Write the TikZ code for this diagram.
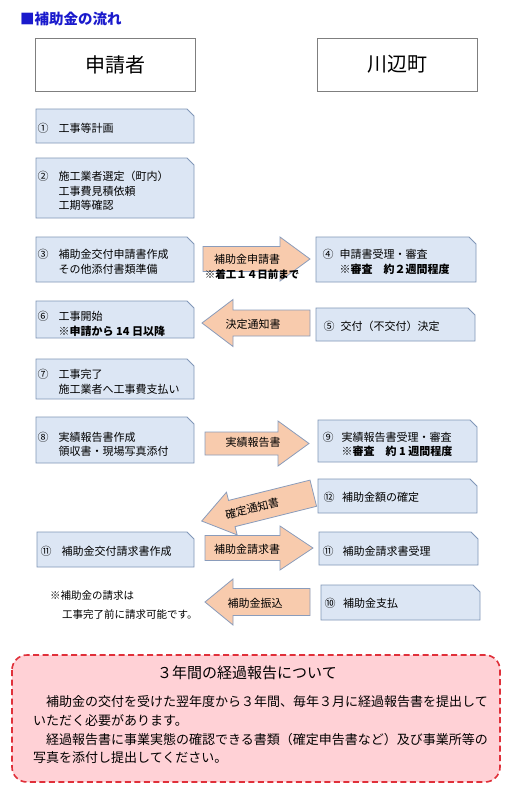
\documentclass[tikz,border=0pt]{standalone}
\usepackage{fontspec}
\setmainfont{Noto Sans CJK JP}
\definecolor{flowTitle}{HTML}{1A1ACC}
\definecolor{flowHeadLine}{HTML}{7F7F7F}
\definecolor{flowBoxFill}{HTML}{DCE6F4}
\definecolor{flowBoxLine}{HTML}{8197B8}
\definecolor{flowArrowFill}{HTML}{F8CBAD}
\definecolor{flowArrowLine}{HTML}{8A9CBB}
\definecolor{flowNoteFill}{HTML}{FFD1D6}
\definecolor{flowNoteLine}{HTML}{E0303A}

\tikzset{
  headbox/.style={draw=flowHeadLine, fill=white, line width=0.8pt,
    minimum width=160pt, minimum height=53pt, inner sep=0pt,
    font=\fontsize{20}{24}\selectfont},
  stepbox/.style={draw=flowBoxLine, fill=flowBoxFill, line width=0.8pt},
  steptext/.style={anchor=west, align=left, inner sep=0pt,
    font=\fontsize{11}{14.5}\selectfont},
  arrowshape/.style={draw=flowArrowLine, fill=flowArrowFill, line width=0.8pt},
  arrowtext/.style={inner sep=0pt, font=\fontsize{11}{13}\selectfont},
  sidenote/.style={inner sep=0pt, font=\fontsize{10.5}{19}\selectfont\bfseries},
  reportbox/.style={draw=flowNoteLine, fill=flowNoteFill, line width=1.6pt,
    dash pattern=on 6pt off 3.5pt, rounded corners=15pt},
}

% circled number with a fixed gap before the text
\newcommand{\stepnum}[2]{\makebox[#1][l]{#2}}
% arrow: tail x, head base x, tip x, centre y, half body, half head
\newcommand{\flowarrow}[6]{%
  \draw[arrowshape] (#1,{#4-#5}) -- (#2,{#4-#5}) -- (#2,{#4-#6}) -- (#3,#4)
    -- (#2,{#4+#6}) -- (#2,{#4+#5}) -- (#1,{#4+#5}) -- cycle;}

\begin{document}
\begin{tikzpicture}[x=1pt, y=-1pt]

\fill[white] (0,0) rectangle (507,800);
\useasboundingbox (0,0) rectangle (507,800);

% --- TITLE ---
\node[anchor=west, inner sep=0pt, text=flowTitle,
  font=\fontsize{14.5}{16}\selectfont\bfseries] (title) at (20,19) {■補助金の流れ};

% --- HEADERS ---
\node[headbox] (appl) at (115,64.5) {申請者};
\node[headbox] (town) at (397,64.5) {川辺町};

% --- STEP BOXES (x1/y1/x2/y2, top right corner snipped) ---
\foreach \xa/\ya/\xb/\yb in {36/109/194/143, 36/158/194/218, 36/237/194/282,
    36/301/194/338, 36/359/194/399, 36/417/194/463, 37/532/194/567,
    316/237/476/282, 316/308/475/341, 318/420/477/462, 318/479/477/513,
    319/532/478/565, 321/585/480/620} {
  \draw[stepbox] (\xa,\ya) -- ({\xb-7},\ya) -- (\xb,{\ya+7}) -- (\xb,\yb)
    -- (\xa,\yb) -- cycle;
}

% --- APPLICANT SIDE ---
\node[steptext] (s1) at (37.5,128) {\stepnum{21pt}{①}工事等計画};
\node[steptext] (s2) at (37.5,191) {\stepnum{21pt}{②}施工業者選定（町内）\\
  \hspace*{21pt}工事費見積依頼\\ \hspace*{21pt}工期等確認};
\node[steptext] (s3) at (37.5,262) {\stepnum{21pt}{③}補助金交付申請書作成\\
  \hspace*{21pt}その他添付書類準備};
\node[steptext] (s6) at (37.5,324) {\stepnum{21pt}{⑥}工事開始\\
  \hspace*{21pt}\textbf{※申請から 14 日以降}};
\node[steptext] (s7) at (37.5,382) {\stepnum{21pt}{⑦}工事完了\\
  \hspace*{21pt}施工業者へ工事費支払い};
\node[steptext] (s8) at (37.5,444.5) {\stepnum{21pt}{⑧}実績報告書作成\\
  \hspace*{21pt}領収書・現場写真添付};
\node[steptext] (s11a) at (40.5,551) {\stepnum{21pt}{⑪}補助金交付請求書作成};

% --- TOWN SIDE ---
\node[steptext] (s4) at (322.5,262) {\stepnum{17pt}{④}申請書受理・審査\\
  \hspace*{17pt}\textbf{※審査　約２週間程度}};
\node[steptext] (s5) at (323.5,326) {\stepnum{17pt}{⑤}交付（不交付）決定};
\node[steptext] (s9) at (322.5,444.5) {\stepnum{19pt}{⑨}実績報告書受理・審査\\
  \hspace*{19pt}\textbf{※審査　約 1 週間程度}};
\node[steptext] (s12) at (323.5,497) {\stepnum{18.5pt}{⑫}補助金額の確定};
\node[steptext] (s11b) at (322.5,551.5) {\stepnum{20pt}{⑪}補助金請求書受理};
\node[steptext] (s10) at (324.5,603) {\stepnum{18.5pt}{⑩}補助金支払};

% --- ARROWS ---
\flowarrow{203}{280}{310}{259}{12.5}{22}
\node[arrowtext] (a1) at (247,259) {補助金申請書};
\node[sidenote] (a1note) at (252,274) {※着工１４日前まで};

\flowarrow{310}{233}{202}{323}{13}{23.5}
\node[arrowtext] (a2) at (253,324) {決定通知書};

\flowarrow{205}{278}{309}{443.5}{11.5}{22.5}
\node[arrowtext] (a3) at (253,442) {実績報告書};

\begin{scope}[shift={(258,507)}, rotate=14]
  \flowarrow{57}{-27}{-58}{0}{13.5}{22}
  \node[arrowtext, rotate=14] (a4) at (-6,0) {確定通知書};
\end{scope}

\flowarrow{205}{280}{313}{548}{12.5}{22}
\node[arrowtext] (a5) at (247,549) {補助金請求書};

\flowarrow{310}{233}{205}{602}{13.5}{23}
\node[arrowtext] (a6) at (255,603) {補助金振込};

\node[anchor=west, align=left, inner sep=0pt, font=\fontsize{10.5}{19}\selectfont]
  (claim) at (50,605.5) {※補助金の請求は\\ \hspace*{12pt}工事完了前に請求可能です。};

% --- THREE YEAR REPORT ---
\draw[reportbox] (12,655) rectangle (500,782);
\node[inner sep=0pt, font=\fontsize{15}{18}\selectfont] (rtitle) at (247,673)
  {３年間の経過報告について};
\node[anchor=north west, align=left, inner sep=0pt,
  font=\fontsize{13}{18.7}\selectfont] (rbody) at (33,695.5)
  {　補助金の交付を受けた翌年度から３年間、毎年３月に経過報告書を提出して\\
   いただく必要があります。\\
   　経過報告書に事業実態の確認できる書類（確定申告書など）及び事業所等の\\
   写真を添付し提出してください。};

\end{tikzpicture}
\end{document}
